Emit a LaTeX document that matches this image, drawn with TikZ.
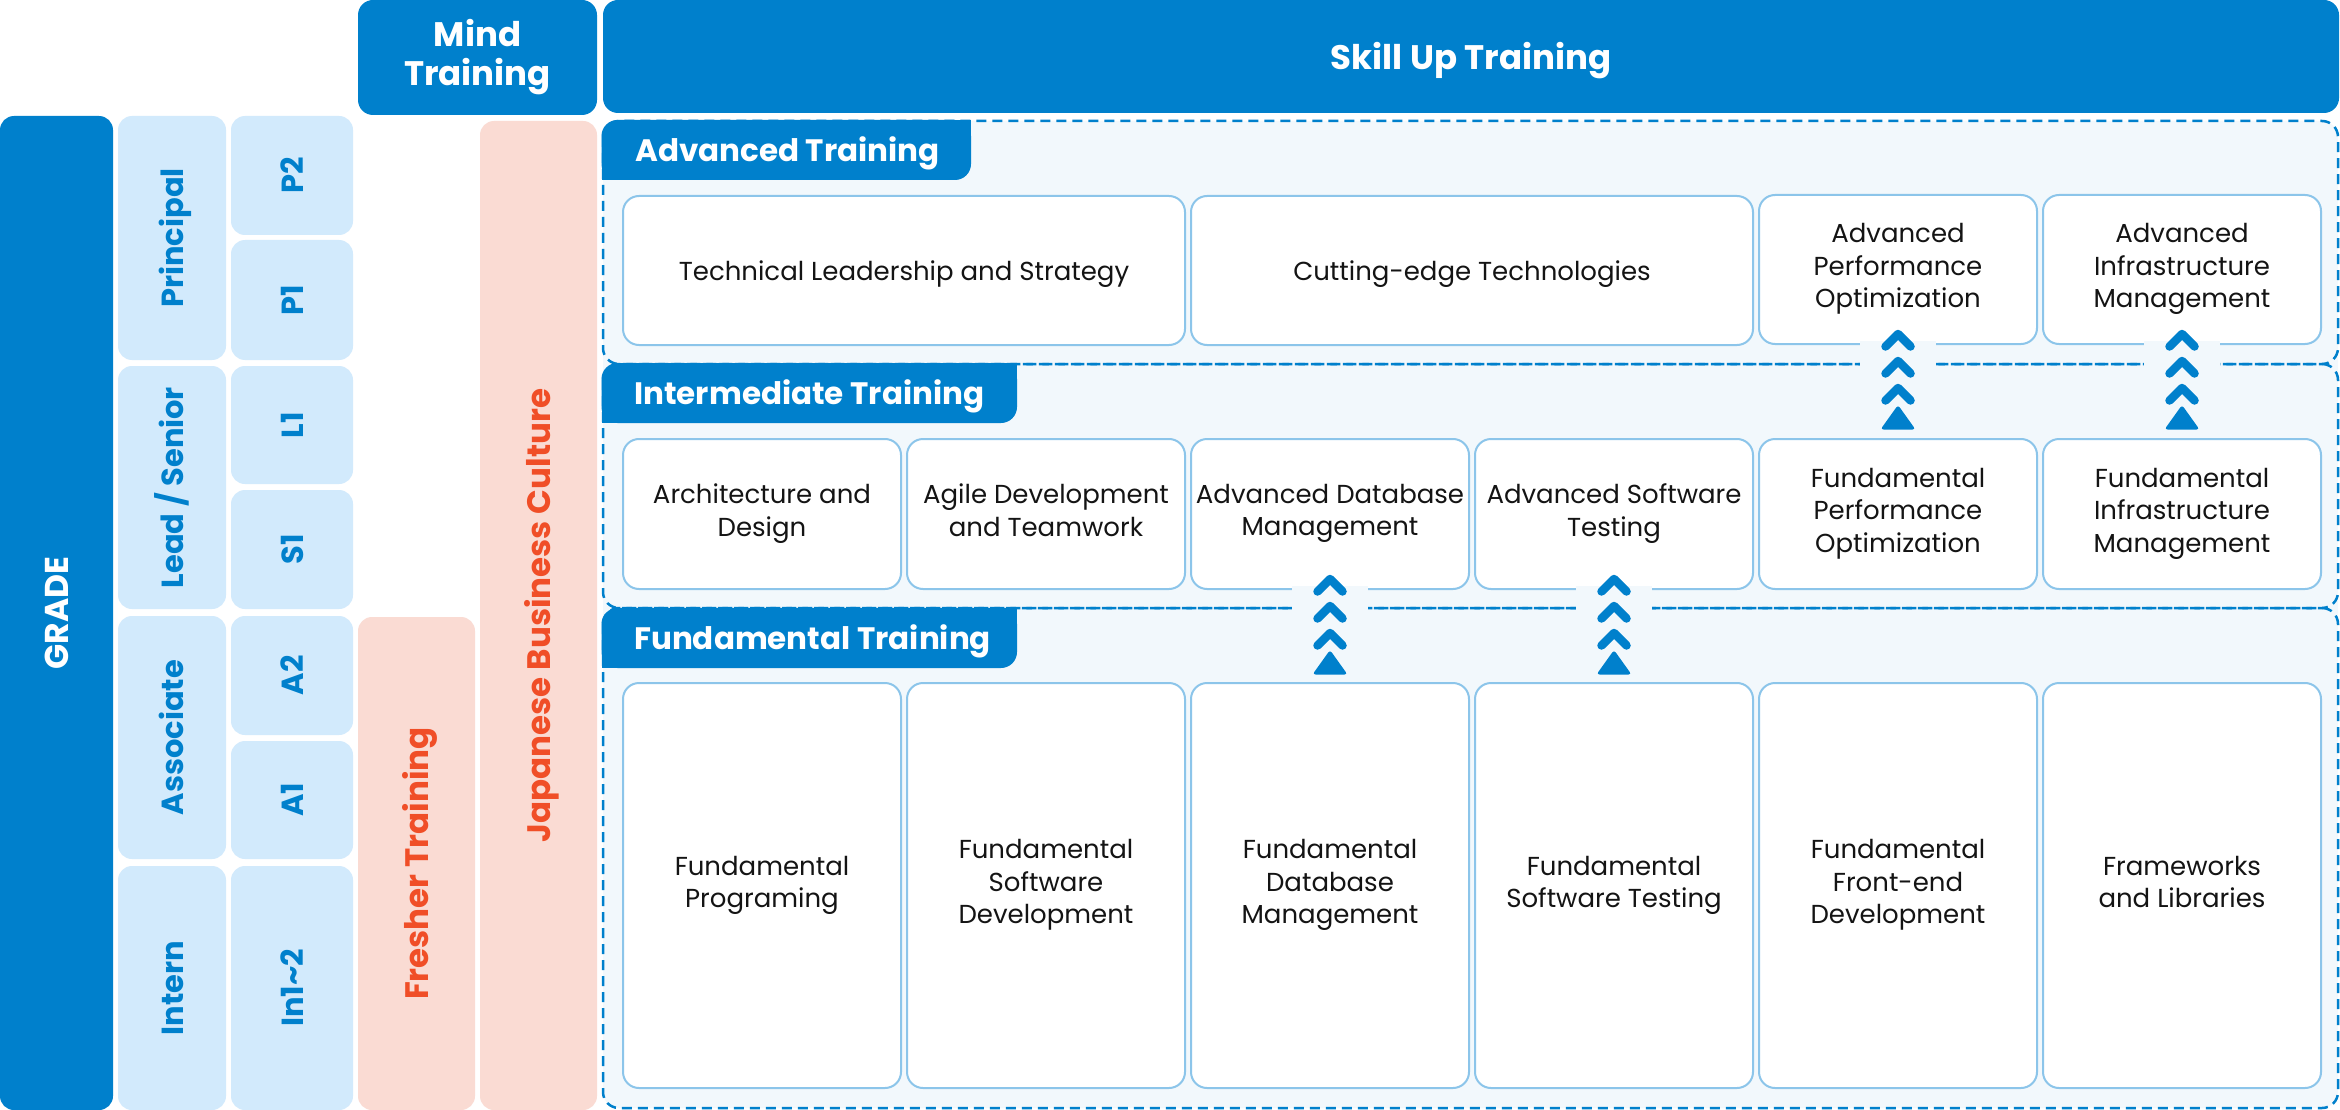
\documentclass[tikz,border=0pt]{standalone}
\usepackage{fontspec}
\setmainfont{Poppins}
\definecolor{mainblue}{HTML}{0080CC}
\definecolor{gradebg}{HTML}{D2EAFC}
\definecolor{pinkbg}{HTML}{FADBD3}
\definecolor{redtext}{HTML}{F04E27}
\definecolor{secbg}{HTML}{F2F8FC}
\definecolor{cardline}{HTML}{8CC5EA}
\definecolor{bodytext}{HTML}{141414}
\newcommand\topstrutx{\rule{0pt}{1.04em}}
\newcommand\botstrutx{\rule[-0.3em]{0pt}{0.3em}}
\begin{document}
\begin{tikzpicture}[x=1pt,y=-1pt,
  struts/.style={execute at begin node=\topstrutx, execute at end node=\botstrutx},
  hdr/.style={struts, fill=mainblue, rounded corners=15pt, text=white, inner sep=0pt, align=center,
    font=\bfseries\fontsize{34}{39}\selectfont},
  gradebar/.style={struts, fill=mainblue, rounded corners=14pt, text=white, inner sep=0pt, rotate=90,
    font=\bfseries\fontsize{33}{40}\selectfont},
  glab/.style={struts, fill=gradebg, rounded corners=14pt, text=mainblue, inner sep=0pt, rotate=90,
    font=\bfseries\fontsize{30.5}{36}\selectfont},
  pinkbox/.style={struts, fill=pinkbg, rounded corners=14pt, text=redtext, inner sep=0pt, rotate=90,
    font=\bfseries\fontsize{32.5}{38}\selectfont},
  secline/.style={draw=mainblue, line width=2.5pt, dash pattern=on 10pt off 6pt, rounded corners=16pt},
  tabtxt/.style={struts, text=white, inner sep=0pt, anchor=west, font=\bfseries\fontsize{31}{37}\selectfont},
  card/.style={struts, draw=cardline, line width=2pt, fill=white, rounded corners=16pt, inner sep=0pt,
    align=center, text=bodytext, font=\fontsize{26}{32.3}\selectfont},
  chevline/.style={draw=mainblue, line width=8.5pt, line cap=round, line join=round}
]
\useasboundingbox (0,0) rectangle (2340,1110);
\fill[white] (0,0) rectangle (2340,1110);

% headers
\node[hdr, minimum width=239pt, minimum height=115pt] (mind) at (477.5,57.5) {Mind\\Training};
\node[hdr, minimum width=1736pt, minimum height=113pt] (skill) at (1471,56.5) {Skill Up Training};

% grade column
\node[gradebar, minimum width=994pt, minimum height=113pt] (grade) at (56.5,613) {GRADE};
\node[glab, minimum width=244pt, minimum height=108pt] (principal) at (172,238) {Principal};
\node[glab, minimum width=243pt, minimum height=108pt] (lead) at (172,487.5) {Lead / Senior};
\node[glab, minimum width=243pt, minimum height=108pt] (assoc) at (172,737.5) {Associate};
\node[glab, minimum width=244pt, minimum height=108pt] (intern) at (172,988) {Intern};
\node[glab, minimum width=119pt, minimum height=122pt] (p2) at (292,175.5) {P2};
\node[glab, minimum width=120pt, minimum height=122pt] (p1) at (292,300) {P1};
\node[glab, minimum width=118pt, minimum height=122pt] (l1) at (292,425) {L1};
\node[glab, minimum width=119pt, minimum height=122pt] (s1) at (292,549.5) {S1};
\node[glab, minimum width=119pt, minimum height=122pt] (a2) at (292,675.5) {A2};
\node[glab, minimum width=118pt, minimum height=122pt] (a1) at (292,800) {A1};
\node[glab, minimum width=244pt, minimum height=122pt] (in12) at (292,988) {In1\textasciitilde2};

% mind training columns
\node[pinkbox, minimum width=493pt, minimum height=117pt] (fresher) at (416.5,863.5) {Fresher Training};
\node[pinkbox, minimum width=989pt, minimum height=117pt] (japan) at (538.5,615.5) {Japanese Business Culture};

% sections
\fill[secbg, rounded corners=16pt] (603,121) rectangle (2338,1108);
\path[secline] (603,121) rectangle (2338,364);
\path[secline] (603,364) rectangle (2338,608);
\path[secline] (603,608) rectangle (2338,1108);

% tabs
\fill[mainblue, rounded corners=16pt] (601.5,120) rectangle (971,180);
\fill[mainblue] (601.5,150) rectangle (640,180);
\fill[mainblue] (930,120) rectangle (971,150);
\node[tabtxt] (advtab) at (635,150.5) {Advanced Training};

\fill[mainblue, rounded corners=16pt] (601.5,363) rectangle (1017,423);
\fill[mainblue] (601.5,393) rectangle (640,423);
\fill[mainblue] (975,363) rectangle (1017,393);
\node[tabtxt] (inttab) at (634,393) {Intermediate Training};

\fill[mainblue, rounded corners=16pt] (601.5,608) rectangle (1017,668);
\fill[mainblue] (601.5,638) rectangle (640,668);
\fill[mainblue] (975,608) rectangle (1017,638);
\node[tabtxt] (funtab) at (634,638) {Fundamental Training};

% row 1 (advanced)
\node[card, minimum width=562pt, minimum height=149pt] (tech) at (904,270.5) {Technical Leadership and Strategy};
\node[card, minimum width=562pt, minimum height=149pt] (cut) at (1472,270.5) {Cutting-edge Technologies};
\node[card, minimum width=278pt, minimum height=149pt] (advperf) at (1898,269.5) {Advanced\\Performance\\Optimization};
\node[card, minimum width=278pt, minimum height=149pt] (advinfra) at (2182,269.5) {Advanced\\Infrastructure\\Management};

% row 2 (intermediate)
\node[card, minimum width=278pt, minimum height=150pt] (arch) at (762,514) {Architecture and\\Design};
\node[card, minimum width=278pt, minimum height=150pt] (agile) at (1046,514) {Agile Development\\and Teamwork};
\node[card, minimum width=278pt, minimum height=150pt] (advdb) at (1330,514) {Advanced Database\\Management};
\node[card, minimum width=278pt, minimum height=150pt] (advtest) at (1614,514) {Advanced Software\\Testing};
\node[card, minimum width=278pt, minimum height=150pt] (funperf) at (1898,514) {Fundamental\\Performance\\Optimization};
\node[card, minimum width=278pt, minimum height=150pt] (funinfra) at (2182,514) {Fundamental\\Infrastructure\\Management};

% row 3 (fundamental)
\node[card, minimum width=278pt, minimum height=405pt] (funprog) at (762,885.5) {Fundamental\\Programing};
\node[card, minimum width=278pt, minimum height=405pt] (funsw) at (1046,885.5) {Fundamental\\Software\\Development};
\node[card, minimum width=278pt, minimum height=405pt] (fundb) at (1330,885.5) {Fundamental\\Database\\Management};
\node[card, minimum width=278pt, minimum height=405pt] (funtest) at (1614,885.5) {Fundamental\\Software Testing};
\node[card, minimum width=278pt, minimum height=405pt] (funfront) at (1898,885.5) {Fundamental\\Front-end\\Development};
\node[card, minimum width=278pt, minimum height=405pt] (frame) at (2182,885.5) {Frameworks\\and Libraries};

% progression chevrons
\foreach \cx/\yy in {1898/334, 2182/334, 1330/579, 1614/579}{
  \fill[secbg] ({\cx-38},{\yy+7}) rectangle ({\cx+38},{\yy+100});
  \foreach \k in {0,1,2}{
    \draw[chevline] ({\cx-12.5},{\yy+27*\k+12.5}) -- ({\cx},{\yy+27*\k}) -- ({\cx+12.5},{\yy+27*\k+12.5});
  }
  \fill[mainblue, rounded corners=3pt] ({\cx},{\yy+71}) -- ({\cx+17.5},{\yy+95.5}) -- ({\cx-17.5},{\yy+95.5}) -- cycle;
}
\end{tikzpicture}
\end{document}
